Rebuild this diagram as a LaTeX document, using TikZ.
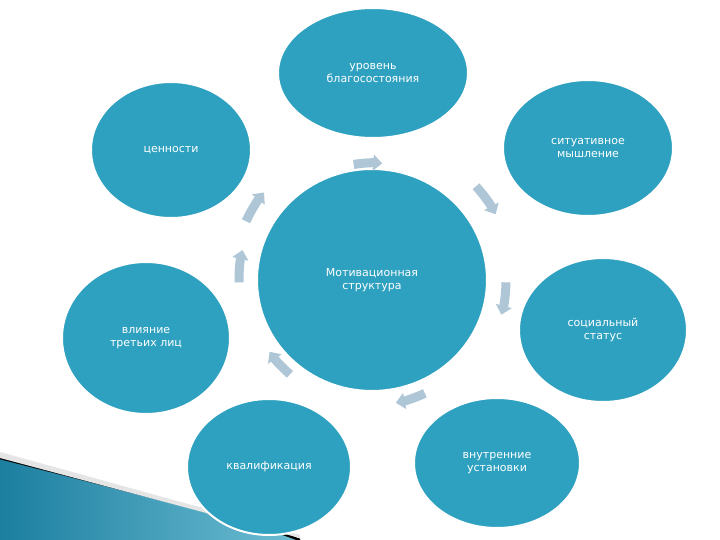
\documentclass[tikz,border=0pt]{standalone}
\usepackage{fontspec}
\setmainfont{DejaVu Sans}
\usetikzlibrary{shapes.geometric,arrows.meta}
\definecolor{teal1}{HTML}{2FA1C0}
\definecolor{arrc}{HTML}{AEC6D6}
\definecolor{dteal}{HTML}{1C7FA0}
\begin{document}
\begin{tikzpicture}[x=1pt,y=-1pt,
  circ/.style={ellipse,fill=teal1,draw=white,line width=2pt,text=white,align=center,inner sep=0pt,font=\fontsize{11}{12.5}\selectfont},
  arr/.style={arrc,line width=9pt,-{Triangle[length=9pt,width=16pt]}}]
\useasboundingbox (0,0) rectangle (720,540);
\fill[white] (0,0) rectangle (720,540);
% bottom-left decoration
\shade[left color=dteal,right color=teal1!70!white] (0,458) -- (250,520) -- (300,540) -- (0,540) -- cycle;
\draw[black,line width=2.5pt] (0,458) -- (250,522) -- (300,540);
\fill[gray!20] (0,452) -- (300,535) -- (300,538) -- (0,458) -- cycle;
\node[circ,minimum width=230pt,minimum height=222pt] (c) at (372,280) {Мотивационная\\структура};
\node[circ,minimum width=190pt,minimum height=130pt] (n1) at (373,73) {уровень\\благосостояния};
\node[circ,minimum width=170pt,minimum height=136pt] (n2) at (588,148) {ситуативное\\мышление};
\node[circ,minimum width=168pt,minimum height=144pt] (n3) at (603,330) {социальный\\статус};
\node[circ,minimum width=166pt,minimum height=130pt] (n4) at (497,463) {внутренние\\установки};
\node[circ,minimum width=164pt,minimum height=136pt] (n5) at (269,467) {квалификация};
\node[circ,minimum width=168pt,minimum height=152pt] (n6) at (146,338) {влияние\\третьих лиц};
\node[circ,minimum width=160pt,minimum height=136pt] (n7) at (171,150) {ценности};
\foreach \a/\r in {-99/117,-42/140,1/134,65/125,131/125,179/133,205/139}
  \draw[arr] ([shift={(\a:\r)}]c.center) arc (\a:\a+14:\r);
\end{tikzpicture}
\end{document}
